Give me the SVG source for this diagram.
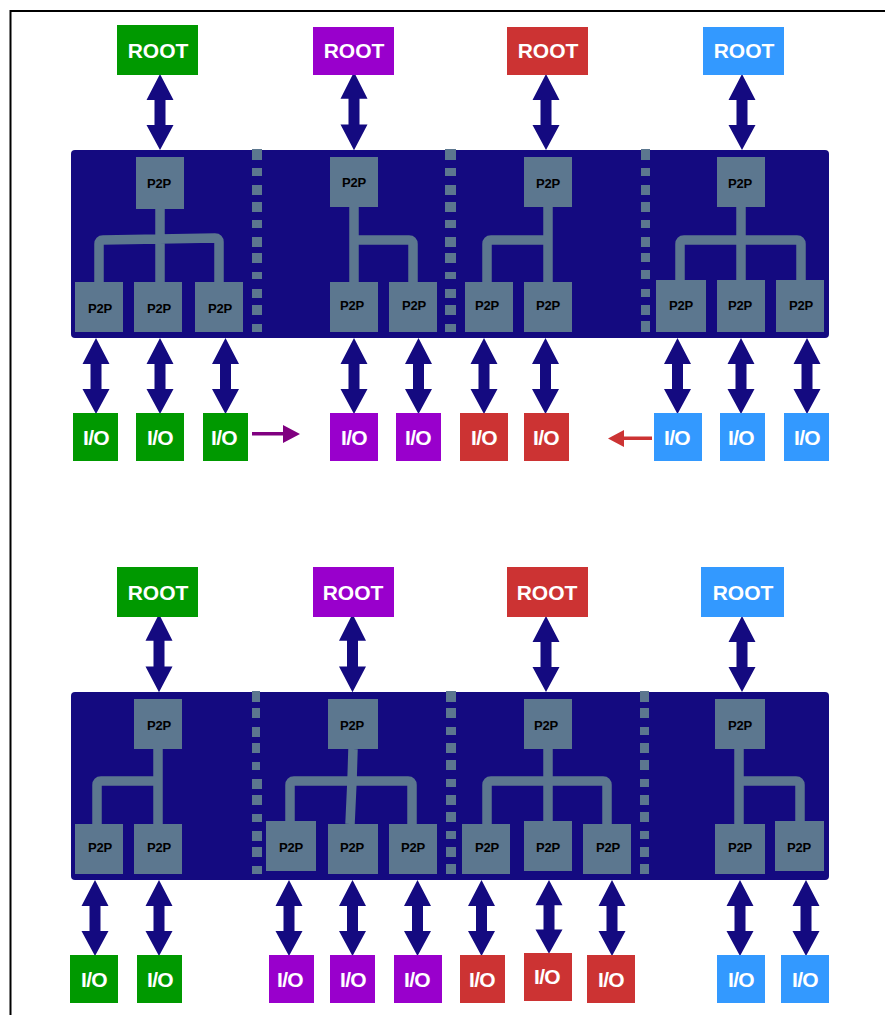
<svg xmlns="http://www.w3.org/2000/svg" xmlns:xlink="http://www.w3.org/1999/xlink" width="885" height="1015" viewBox="0 0 885 1015">
<style>
text{font-family:"Liberation Sans",Arial,sans-serif;font-weight:bold;text-anchor:middle}
.r{font-size:21px;fill:#fff}
.i{font-size:21px;fill:#fff;letter-spacing:-.6px}
.p{font-size:13px;fill:#000;letter-spacing:-.2px}
.s{fill:#5c778f}
.g{fill:#009900}.v{fill:#9900cc}.d{fill:#cc3333}.b{fill:#3399ff}
.c{fill:none;stroke:#5c778f;stroke-width:9.5;stroke-linejoin:round}
.a{fill:#140a80}
.bay{fill:#140a80}
</style>
<defs>
<polygon id="arr" points="0,0 13.500,26 5.500,26 5.500,51 13.500,51 0,76 -13.500,51 -5.500,51 -5.500,26 -13.500,26"/>
</defs>
<path d="M10.500 1015V11H885" fill="none" stroke="#000" stroke-width="2"/>

<g id="bay-top"><rect class="bay" x="71" y="150" width="758" height="188" rx="4"/></g>
<g id="bay-bottom"><rect class="bay" x="71" y="692" width="758" height="188" rx="4"/></g>

<g id="partitions" class="s">
<path d="M252 149h10v11h-10zM252 168h10v8h-10zM252 185h10v10h-10zM252 202h10v10h-10zM252 220h10v8h-10zM252 237h10v10h-10zM252 253h10v10h-10zM252 272h10v7h-10zM252 289h10v9h-10zM252 305h10v10h-10zM252 324h10v8h-10z"/>
<path d="M445 149h11v11h-11zM445 168h11v8h-11zM445 185h11v10h-11zM445 202h11v10h-11zM445 220h11v8h-11zM445 237h11v10h-11zM445 253h11v10h-11zM445 272h11v7h-11zM445 289h11v9h-11zM445 305h11v10h-11zM445 324h11v8h-11z"/>
<path d="M641 149h9v11h-9zM641 168h9v8h-9zM641 185h9v10h-9zM641 202h9v10h-9zM641 220h9v8h-9zM641 237h9v10h-9zM641 253h9v9h-9zM641 270h9v9h-9zM641 289h9v8h-9zM641 305h9v10h-9zM641 321h9v11h-9z"/>
<path d="M252 691h8v11h-8zM252 708h8v10h-8zM252 727h8v10h-8zM252 743h8v10h-8zM252 762h8v8h-8zM252 779h10v10h-10zM252 795h10v10h-10zM252 814h10v8h-10zM252 831h10v10h-10zM252 847h10v10h-10zM252 866h10v8h-10z"/>
<path d="M446 691h10v11h-10zM446 708h10v10h-10zM446 727h10v8h-10zM446 743h10v10h-10zM446 760h10v10h-10zM446 779h10v8h-10zM446 795h10v10h-10zM446 812h10v10h-10zM446 831h10v8h-10zM446 847h10v10h-10zM446 864h10v10h-10z"/>
<path d="M640 691h9v11h-9zM640 708h9v10h-9zM640 727h9v8h-9zM640 743h9v10h-9zM640 760h9v10h-9zM640 779h9v8h-9zM640 795h9v10h-9zM640 812h9v10h-9zM640 831h9v8h-9zM640 847h9v10h-9zM640 864h9v10h-9z"/>
</g>

<g id="connectors">
<g id="tree-links">
<path class="c" d="M160 209V282M99 282V244Q99 240 103 240L215 238Q219 238 219 242V282"/>
<path class="c" d="M354 207V282M354 240H409Q413 240 413 244V282"/>
<path class="c" d="M548 207V282M548 240H491Q487 240 487 244V282"/>
<path class="c" d="M741 207V280M801 280V244Q801 240 797 240H684Q680 240 680 244V280"/>
<path class="c" d="M158 749V824M158 781H101Q97 781 97 785V824"/>
<path class="c" d="M353 749L352 781L350 824M290 821V785Q290 781 294 781H408Q412 781 412 785V824"/>
<path class="c" d="M548 749V821M487 824V785Q487 781 491 781H603Q607 781 607 785V824"/>
<path class="c" d="M739 749V824M739 781H796Q800 781 800 785V824"/>
</g>
<g id="bus-arrows" class="a">
<use xlink:href="#arr" href="#arr" transform="translate(160,74)"/>
<use xlink:href="#arr" href="#arr" transform="translate(354,72) scale(1,1.03)"/>
<use xlink:href="#arr" href="#arr" transform="translate(546,74)"/>
<use xlink:href="#arr" href="#arr" transform="translate(742,74)"/>
<use xlink:href="#arr" href="#arr" transform="translate(96,338)"/>
<use xlink:href="#arr" href="#arr" transform="translate(160,338)"/>
<use xlink:href="#arr" href="#arr" transform="translate(225.500,338)"/>
<use xlink:href="#arr" href="#arr" transform="translate(354,338)"/>
<use xlink:href="#arr" href="#arr" transform="translate(418.500,338)"/>
<use xlink:href="#arr" href="#arr" transform="translate(484,338)"/>
<use xlink:href="#arr" href="#arr" transform="translate(545.500,338)"/>
<use xlink:href="#arr" href="#arr" transform="translate(677.500,338)"/>
<use xlink:href="#arr" href="#arr" transform="translate(741,338)"/>
<use xlink:href="#arr" href="#arr" transform="translate(807,338)"/>
<use xlink:href="#arr" href="#arr" transform="translate(159,614) scale(1,1.03)"/>
<use xlink:href="#arr" href="#arr" transform="translate(352.500,614) scale(1,1.03)"/>
<use xlink:href="#arr" href="#arr" transform="translate(546,616)"/>
<use xlink:href="#arr" href="#arr" transform="translate(742,616)"/>
<use xlink:href="#arr" href="#arr" transform="translate(95,880)"/>
<use xlink:href="#arr" href="#arr" transform="translate(159,880)"/>
<use xlink:href="#arr" href="#arr" transform="translate(289,880)"/>
<use xlink:href="#arr" href="#arr" transform="translate(352.500,880)"/>
<use xlink:href="#arr" href="#arr" transform="translate(417.500,880)"/>
<use xlink:href="#arr" href="#arr" transform="translate(481.500,880)"/>
<use xlink:href="#arr" href="#arr" transform="translate(549,880) scale(1,.97)"/>
<use xlink:href="#arr" href="#arr" transform="translate(612,880)"/>
<use xlink:href="#arr" href="#arr" transform="translate(740,880)"/>
<use xlink:href="#arr" href="#arr" transform="translate(806,880)"/>
</g>
<polygon id="move-right" fill="#800080" points="252,432 283,432 283,425 300,434 283,443 283,435.500 252,435.500"/>
<polygon id="move-left" fill="#cc3333" points="652,436.500 624,436.500 624,430 608,438.500 624,447 624,440 652,440"/>
</g>

<g id="nodes">
<g id="root-1"><rect class="g" x="117" y="25" width="81" height="50"/><text class="r" x="158" y="58">ROOT</text></g>
<g id="root-2"><rect class="v" x="313" y="27" width="81" height="48"/><text class="r" x="354" y="58">ROOT</text></g>
<g id="root-3"><rect class="d" x="507" y="27" width="81" height="48"/><text class="r" x="548" y="58">ROOT</text></g>
<g id="root-4"><rect class="b" x="703" y="27" width="81" height="48"/><text class="r" x="744" y="58">ROOT</text></g>

<g id="p2p-1"><rect class="s" x="136" y="157" width="48" height="52"/><text class="p" x="159" y="188">P2P</text></g>
<g id="p2p-2"><rect class="s" x="330" y="157" width="48" height="50"/><text class="p" x="354" y="187">P2P</text></g>
<g id="p2p-3"><rect class="s" x="524" y="157" width="48" height="50"/><text class="p" x="548" y="188">P2P</text></g>
<g id="p2p-4"><rect class="s" x="717" y="157" width="48" height="50"/><text class="p" x="740" y="188">P2P</text></g>

<g id="p2p-5"><rect class="s" x="75" y="282" width="48" height="50"/><text class="p" x="100" y="313">P2P</text></g>
<g id="p2p-6"><rect class="s" x="134" y="282" width="48" height="50"/><text class="p" x="159" y="313">P2P</text></g>
<g id="p2p-7"><rect class="s" x="195" y="282" width="48" height="50"/><text class="p" x="220" y="313">P2P</text></g>
<g id="p2p-8"><rect class="s" x="330" y="282" width="48" height="50"/><text class="p" x="352" y="310">P2P</text></g>
<g id="p2p-9"><rect class="s" x="389" y="282" width="48" height="50"/><text class="p" x="414" y="310">P2P</text></g>
<g id="p2p-10"><rect class="s" x="465" y="282" width="48" height="50"/><text class="p" x="487" y="310">P2P</text></g>
<g id="p2p-11"><rect class="s" x="524" y="282" width="48" height="50"/><text class="p" x="548" y="310">P2P</text></g>
<g id="p2p-12"><rect class="s" x="656" y="280" width="50" height="52"/><text class="p" x="681" y="310">P2P</text></g>
<g id="p2p-13"><rect class="s" x="717" y="280" width="48" height="52"/><text class="p" x="740" y="310">P2P</text></g>
<g id="p2p-14"><rect class="s" x="776" y="280" width="48" height="52"/><text class="p" x="801" y="310">P2P</text></g>

<g id="io-1"><rect class="g" x="73" y="413" width="45" height="48"/><text class="i" x="96" y="445">I/O</text></g>
<g id="io-2"><rect class="g" x="136" y="413" width="48" height="48"/><text class="i" x="160" y="445">I/O</text></g>
<g id="io-3"><rect class="g" x="203" y="413" width="45" height="48"/><text class="i" x="224" y="445">I/O</text></g>
<g id="io-4"><rect class="v" x="330" y="413" width="48" height="48"/><text class="i" x="354" y="445">I/O</text></g>
<g id="io-5"><rect class="v" x="396" y="413" width="45" height="48"/><text class="i" x="418" y="445">I/O</text></g>
<g id="io-6"><rect class="d" x="460" y="413" width="48" height="48"/><text class="i" x="484" y="445">I/O</text></g>
<g id="io-7"><rect class="d" x="524" y="413" width="45" height="48"/><text class="i" x="546" y="445">I/O</text></g>
<g id="io-8"><rect class="b" x="654" y="413" width="48" height="48"/><text class="i" x="677" y="445">I/O</text></g>
<g id="io-9"><rect class="b" x="720" y="413" width="45" height="48"/><text class="i" x="741" y="445">I/O</text></g>
<g id="io-10"><rect class="b" x="784" y="413" width="45" height="48"/><text class="i" x="807" y="445">I/O</text></g>

<g id="root-5"><rect class="g" x="117" y="567" width="81" height="50"/><text class="r" x="158" y="600">ROOT</text></g>
<g id="root-6"><rect class="v" x="313" y="567" width="81" height="50"/><text class="r" x="353" y="600">ROOT</text></g>
<g id="root-7"><rect class="d" x="507" y="567" width="81" height="50"/><text class="r" x="547" y="600">ROOT</text></g>
<g id="root-8"><rect class="b" x="701" y="567" width="83" height="50"/><text class="r" x="743" y="600">ROOT</text></g>

<g id="p2p-15"><rect class="s" x="134" y="699" width="48" height="50"/><text class="p" x="159" y="730">P2P</text></g>
<g id="p2p-16"><rect class="s" x="328" y="699" width="50" height="50"/><text class="p" x="352" y="730">P2P</text></g>
<g id="p2p-17"><rect class="s" x="524" y="699" width="48" height="50"/><text class="p" x="546" y="730">P2P</text></g>
<g id="p2p-18"><rect class="s" x="715" y="699" width="50" height="50"/><text class="p" x="740" y="730">P2P</text></g>

<g id="p2p-19"><rect class="s" x="75" y="824" width="48" height="50"/><text class="p" x="100" y="852">P2P</text></g>
<g id="p2p-20"><rect class="s" x="134" y="824" width="48" height="50"/><text class="p" x="159" y="852">P2P</text></g>
<g id="p2p-21"><rect class="s" x="266" y="821" width="50" height="50"/><text class="p" x="291" y="852">P2P</text></g>
<g id="p2p-22"><rect class="s" x="328" y="824" width="50" height="50"/><text class="p" x="352" y="852">P2P</text></g>
<g id="p2p-23"><rect class="s" x="389" y="824" width="48" height="50"/><text class="p" x="413" y="852">P2P</text></g>
<g id="p2p-24"><rect class="s" x="462" y="824" width="48" height="50"/><text class="p" x="487" y="852">P2P</text></g>
<g id="p2p-25"><rect class="s" x="524" y="821" width="48" height="50"/><text class="p" x="548" y="852">P2P</text></g>
<g id="p2p-26"><rect class="s" x="583" y="824" width="48" height="50"/><text class="p" x="608" y="852">P2P</text></g>
<g id="p2p-27"><rect class="s" x="715" y="824" width="50" height="50"/><text class="p" x="740" y="852">P2P</text></g>
<g id="p2p-28"><rect class="s" x="775" y="821" width="49" height="50"/><text class="p" x="799" y="852">P2P</text></g>

<g id="io-11"><rect class="g" x="70" y="955" width="48" height="48"/><text class="i" x="94" y="987">I/O</text></g>
<g id="io-12"><rect class="g" x="137" y="955" width="45" height="48"/><text class="i" x="160" y="987">I/O</text></g>
<g id="io-13"><rect class="v" x="269" y="955" width="45" height="48"/><text class="i" x="290" y="987">I/O</text></g>
<g id="io-14"><rect class="v" x="330" y="955" width="45" height="48"/><text class="i" x="353" y="987">I/O</text></g>
<g id="io-15"><rect class="v" x="394" y="955" width="48" height="48"/><text class="i" x="417" y="987">I/O</text></g>
<g id="io-16"><rect class="d" x="460" y="955" width="45" height="48"/><text class="i" x="482" y="987">I/O</text></g>
<g id="io-17"><rect class="d" x="524" y="953" width="48" height="48"/><text class="i" x="547" y="984">I/O</text></g>
<g id="io-18"><rect class="d" x="587" y="955" width="48" height="48"/><text class="i" x="611" y="987">I/O</text></g>
<g id="io-19"><rect class="b" x="717" y="955" width="48" height="48"/><text class="i" x="741" y="987">I/O</text></g>
<g id="io-20"><rect class="b" x="781" y="955" width="48" height="48"/><text class="i" x="805" y="987">I/O</text></g>
</g>
</svg>
